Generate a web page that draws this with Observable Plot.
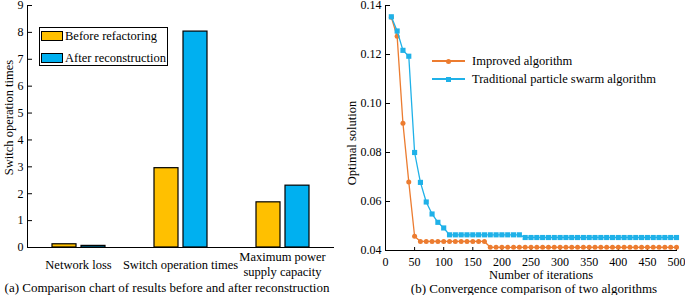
<!DOCTYPE html>
<html>
<head>
<meta charset="utf-8">
<script src="https://cdn.jsdelivr.net/npm/d3@7"></script>
<script src="https://cdn.jsdelivr.net/npm/@observablehq/plot@0.6"></script>
<style>
  html, body { margin: 0; padding: 0; background: #fff; }
  #root { position: relative; width: 685px; height: 295px; font-family: "Liberation Serif", "Times New Roman", serif; font-size: 12.5px; color: #000; overflow: hidden; }
  .abs { position: absolute; white-space: nowrap; }
  #left { position: absolute; left: 0; top: 0; }
  #right { position: absolute; left: 340px; top: 0; }
  .cap { position: absolute; white-space: nowrap; transform: translate(-50%, -50%); line-height: 1; font-size: 13px; }
  .lg-text { position: absolute; white-space: nowrap; transform: translateY(-50%); line-height: 1; }
</style>
</head>
<body>
<div id="root">
  <div id="left"></div>
  <div id="right"></div>
</div>
<script>
// ---------- Data: left bar chart ----------
const categories = ["Network loss", "Switch operation times", "Maximum power\nsupply capacity"];
const series = ["Before refactoring", "After reconstruction"];
const beforeValues = [0.12, 2.95, 1.68];
const afterValues = [0.06, 8.03, 2.30];
const barYTicks = [0, 1, 2, 3, 4, 5, 6, 7, 8, 9];
const barColors = ["#FFC000", "#00B0F0"];

// ---------- Data: right convergence chart ----------
const iterations = [10, 20, 30, 40, 50, 60, 70, 80, 90, 100,
  110, 120, 130, 140, 150, 160, 170, 180, 190, 200,
  210, 220, 230, 240, 250, 260, 270, 280, 290, 300,
  310, 320, 330, 340, 350, 360, 370, 380, 390, 400,
  410, 420, 430, 440, 450, 460, 470, 480, 490, 500];
const improvedValues = [0.1352, 0.1274, 0.0919, 0.0680, 0.0458, 0.0437, 0.0437, 0.0437, 0.0437, 0.0437,
  0.0437, 0.0437, 0.0437, 0.0437, 0.0437, 0.0437, 0.0437, 0.0413, 0.0413, 0.0413,
  0.0413, 0.0413, 0.0413, 0.0413, 0.0413, 0.0413, 0.0413, 0.0413, 0.0413, 0.0413,
  0.0413, 0.0413, 0.0413, 0.0413, 0.0413, 0.0413, 0.0413, 0.0413, 0.0413, 0.0413,
  0.0413, 0.0413, 0.0413, 0.0413, 0.0413, 0.0413, 0.0413, 0.0413, 0.0413, 0.0413];
const traditionalValues = [0.1354, 0.1296, 0.1217, 0.1193, 0.0800, 0.0678, 0.0598, 0.0549, 0.0515, 0.0492,
  0.0464, 0.0464, 0.0464, 0.0464, 0.0464, 0.0464, 0.0464, 0.0464, 0.0464, 0.0464,
  0.0464, 0.0464, 0.0464, 0.0453, 0.0453, 0.0453, 0.0453, 0.0453, 0.0453, 0.0453,
  0.0453, 0.0453, 0.0453, 0.0453, 0.0453, 0.0453, 0.0453, 0.0453, 0.0453, 0.0453,
  0.0453, 0.0453, 0.0453, 0.0453, 0.0453, 0.0453, 0.0453, 0.0453, 0.0453, 0.0453];
const lineSeries = ["Improved algorithm", "Traditional particle swarm algorithm"];
const lineColors = ["#EC7C30", "#1FB1E8"];
const xTicks = [0, 50, 100, 150, 200, 250, 300, 350, 400, 450, 500];
const yTicks = [0.04, 0.06, 0.08, 0.10, 0.12, 0.14];

const captions = ["(a) Comparison chart of results before and after reconstruction",
                  "(b) Convergence comparison of two algorithms"];

// ---------- Build tables ----------
const barData = [];
categories.forEach((c, i) => {
  barData.push({category: c, series: series[0], value: beforeValues[i]});
  barData.push({category: c, series: series[1], value: afterValues[i]});
});
const improved = iterations.map((it, i) => ({iter: it, value: improvedValues[i]}));
const traditional = iterations.map((it, i) => ({iter: it, value: traditionalValues[i]}));

const baseStyle = {fontFamily: "'Liberation Serif', 'Times New Roman', serif", fontSize: "12px", color: "#000", background: "transparent", overflow: "visible"};

// ---------- Left chart ----------
const left = Plot.plot({
  width: 340, height: 282,
  marginLeft: 27, marginRight: 7, marginTop: 5, marginBottom: 35,
  style: baseStyle,
  fx: {domain: categories, padding: 0},
  x: {domain: series, paddingInner: 0.18, paddingOuter: 0.79, axis: null},
  y: {domain: [0, 9]},
  color: {domain: series, range: barColors},
  marks: [
    Plot.barY(barData, {fx: "category", x: "series", y: "value", fill: "series", stroke: "#000", strokeWidth: 1.2}),
    Plot.frame({anchor: "bottom", stroke: "#000", strokeWidth: 1}),
    Plot.frame({anchor: "left", stroke: "#000", strokeWidth: 1, facetAnchor: "left"}),
    Plot.axisY({ticks: barYTicks, tickFormat: d => String(d), tickSize: -5, tickPadding: 9, label: null}),
    Plot.axisFx({anchor: "bottom", tickSize: 0, tickPadding: 16, lineAnchor: "middle", lineHeight: 1.25, fontSize: 12.5, label: null}),
    Plot.text([categories[0]], {fx: d => d, text: () => "Switch operation times", frameAnchor: "left", textAnchor: "middle", lineAnchor: "middle", rotate: -90, dx: -19, dy: -9, fontSize: 12.5})
  ]
});
document.getElementById("left").appendChild(left);

// ---------- Right chart ----------
const right = Plot.plot({
  width: 345, height: 282,
  marginLeft: 45, marginRight: 9, marginTop: 5, marginBottom: 32,
  style: baseStyle,
  x: {domain: [0, 500]},
  y: {domain: [0.04, 0.14]},
  marks: [
    Plot.frame({anchor: "left", stroke: "#000"}),
    Plot.frame({anchor: "bottom", stroke: "#000"}),
    Plot.axisX({ticks: xTicks, tickFormat: d => String(d), tickSize: -3, tickPadding: 10, label: null}),
    Plot.axisY({ticks: yTicks, tickFormat: d => d.toFixed(2), tickSize: -5, tickPadding: 9, label: null}),
    Plot.line(improved, {x: "iter", y: "value", stroke: lineColors[0], strokeWidth: 1.3}),
    Plot.dot(improved, {x: "iter", y: "value", r: 2.5, fill: lineColors[0]}),
    Plot.line(traditional, {x: "iter", y: "value", stroke: lineColors[1], strokeWidth: 1.3}),
    Plot.dot(traditional, {x: "iter", y: "value", symbol: "square", r: 2.9, fill: lineColors[1]}),
    Plot.text(["Number of iterations"], {frameAnchor: "bottom", textAnchor: "middle", lineAnchor: "middle", dy: 24, dx: 10, fontSize: 12.5}),
    Plot.text(["Optimal solution"], {frameAnchor: "left", textAnchor: "middle", lineAnchor: "middle", rotate: -90, dx: -34, dy: 15, fontSize: 12.5})
  ]
});
document.getElementById("right").appendChild(right);

// ---------- Legends & captions (HTML) ----------
const root = document.getElementById("root");
function el(tag, cls, css, text) {
  const e = document.createElement(tag);
  if (cls) e.className = cls;
  Object.assign(e.style, css);
  if (text != null) e.textContent = text;
  root.appendChild(e);
  return e;
}
// Left legend box
el("div", "abs", {left: "39px", top: "27px", width: "129px", height: "39px", border: "1px solid #000", background: "#fff", boxSizing: "border-box"});
series.forEach((s, i) => {
  const cy = 36 + i * 22;
  el("div", "abs", {left: "41px", top: (cy - 5) + "px", width: "22px", height: "10px", background: barColors[i], border: "1px solid #000", boxSizing: "border-box"});
  el("div", "lg-text", {left: "65px", top: cy + "px"}, s);
});
// Right legend
lineSeries.forEach((s, i) => {
  const cy = 61 + i * 18;
  el("div", "abs", {left: "432px", top: (cy - 0.75) + "px", width: "33px", height: "1.5px", background: lineColors[i]});
  if (i === 0) {
    el("div", "abs", {left: "445.5px", top: (cy - 2.5) + "px", width: "5px", height: "5px", borderRadius: "50%", background: lineColors[i]});
  } else {
    el("div", "abs", {left: "445.5px", top: (cy - 2.5) + "px", width: "5px", height: "5px", background: lineColors[i]});
  }
  el("div", "lg-text", {left: "472px", top: cy + "px"}, s);
});
// Captions
el("div", "cap", {left: "167px", top: "287px"}, captions[0]);
el("div", "cap", {left: "534px", top: "288px"}, captions[1]);
</script>
</body>
</html>
